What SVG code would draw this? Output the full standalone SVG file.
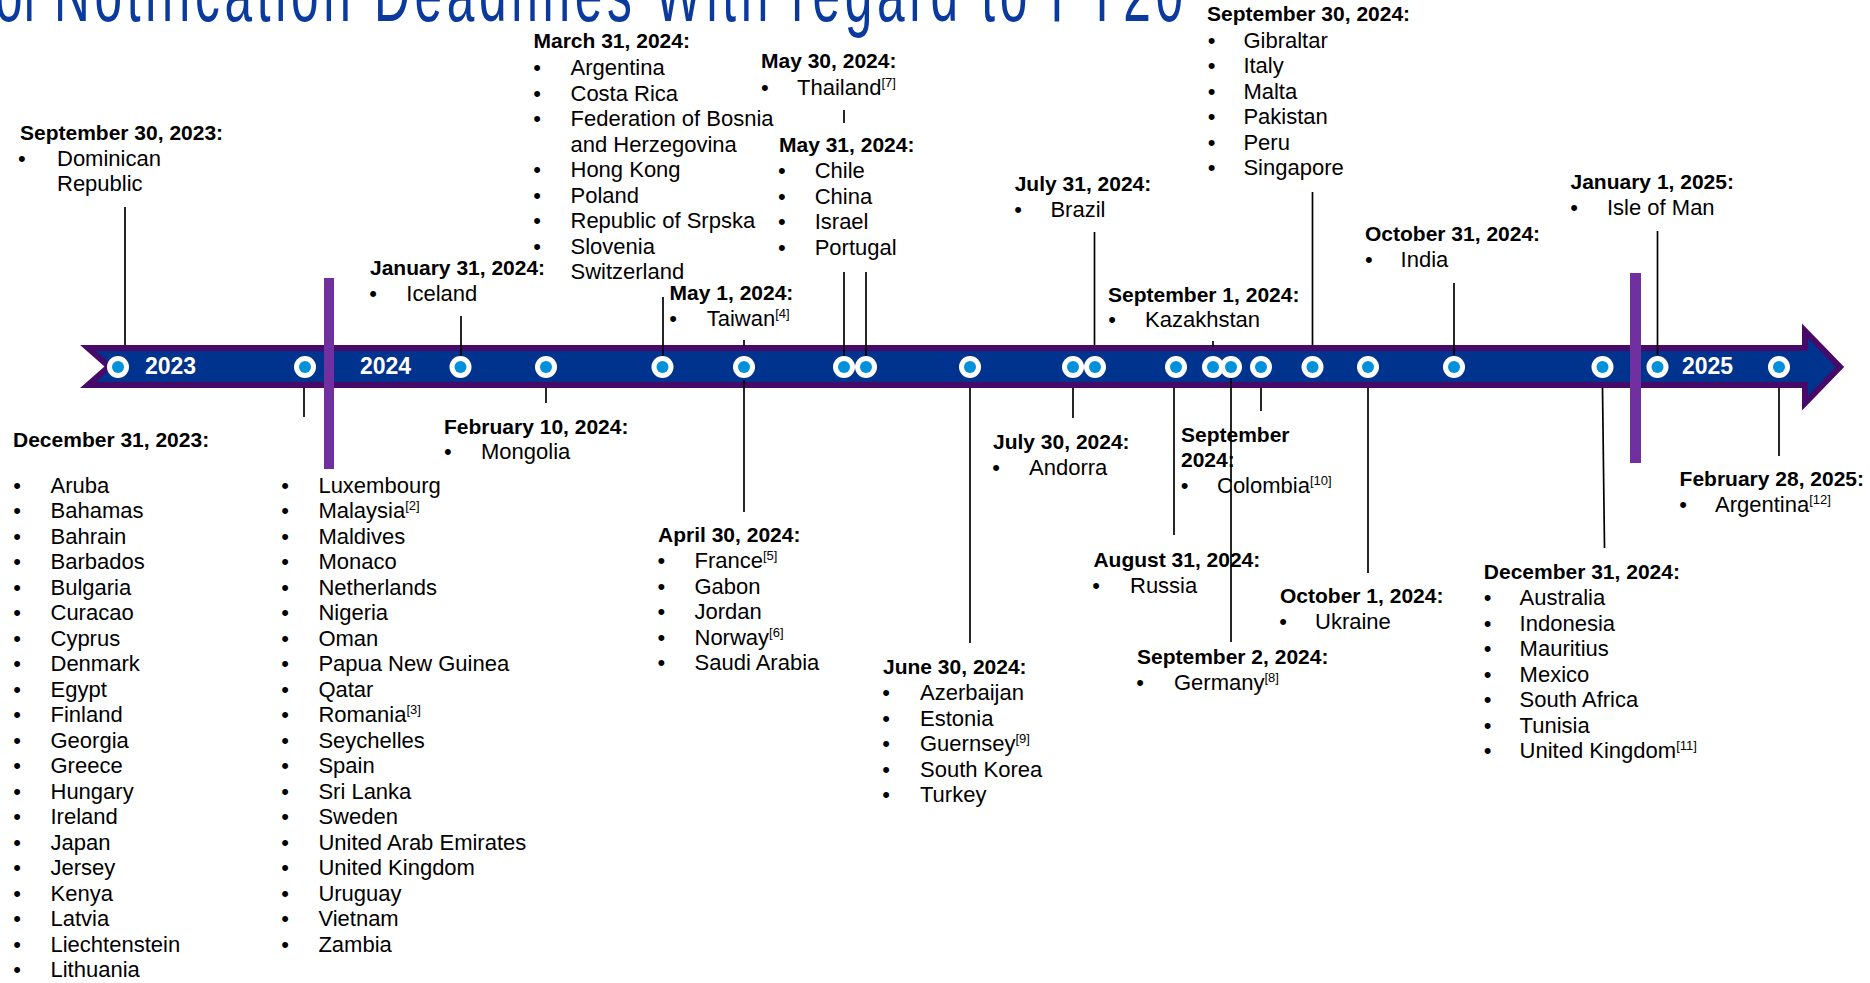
<svg xmlns="http://www.w3.org/2000/svg" width="1870" height="983" viewBox="0 0 1870 983">
<style>
.h{font-family:"Liberation Sans",Arial,sans-serif;font-weight:bold;font-size:21px;fill:#000}
.t{font-family:"Liberation Sans",Arial,sans-serif;font-size:22px;fill:#000}
.s{font-size:13px}
.yr{font-family:"Liberation Sans",Arial,sans-serif;font-weight:bold;font-size:23px;fill:#fff}
.ttl{font-family:"Liberation Sans",Arial,sans-serif;font-size:80px;fill:#0A3A9E}
.conn line{stroke:#000;stroke-width:1.7}
.dot .o{fill:#fff}
.dot .i{fill:#0091DA}
.div{fill:#7030A0}
</style>
<rect width="1870" height="983" fill="#fff"/>
<g id="title">
<g transform="translate(54,21) scale(0.62,1)"><text class="ttl" x="-95" y="0">of</text><text class="ttl" x="0" y="0" textLength="1821" lengthAdjust="spacing">Notification Deadlines With regard to FY20</text></g>
</g>
<g id="timeline">
<path d="M88,348 L1805,348 L1805,331 L1840,367 L1805,403 L1805,385 L88,385 L109,366.5 Z" fill="#00338D" stroke="#470A68" stroke-width="6" stroke-miterlimit="10"/>
<rect class="div" x="324" y="278" width="10" height="191"/>
<rect class="div" x="1630" y="273" width="11" height="190"/>
<text class="yr" x="145" y="374">2023</text>
<text class="yr" x="360" y="374">2024</text>
<text class="yr" x="1682" y="374">2025</text>
</g>
<g id="n-sep30-2023">
<text class="h" x="20" y="140">September 30, 2023:</text>
<text class="t"><tspan x="18" y="166">•</tspan><tspan x="57">Dominican</tspan><tspan x="57" y="191">Republic</tspan></text>
</g>
<g id="n-dec31-2023">
<text class="h" x="13" y="446.5">December 31, 2023:</text>
<text class="t"><tspan x="13.2" y="492.5">•</tspan><tspan x="50.5">Aruba</tspan><tspan x="13.2" y="518">•</tspan><tspan x="50.5">Bahamas</tspan><tspan x="13.2" y="543.5">•</tspan><tspan x="50.5">Bahrain</tspan><tspan x="13.2" y="569">•</tspan><tspan x="50.5">Barbados</tspan><tspan x="13.2" y="594.5">•</tspan><tspan x="50.5">Bulgaria</tspan><tspan x="13.2" y="620">•</tspan><tspan x="50.5">Curacao</tspan><tspan x="13.2" y="645.5">•</tspan><tspan x="50.5">Cyprus</tspan><tspan x="13.2" y="671">•</tspan><tspan x="50.5">Denmark</tspan><tspan x="13.2" y="696.5">•</tspan><tspan x="50.5">Egypt</tspan><tspan x="13.2" y="722">•</tspan><tspan x="50.5">Finland</tspan><tspan x="13.2" y="747.5">•</tspan><tspan x="50.5">Georgia</tspan><tspan x="13.2" y="773">•</tspan><tspan x="50.5">Greece</tspan><tspan x="13.2" y="798.5">•</tspan><tspan x="50.5">Hungary</tspan><tspan x="13.2" y="824">•</tspan><tspan x="50.5">Ireland</tspan><tspan x="13.2" y="849.5">•</tspan><tspan x="50.5">Japan</tspan><tspan x="13.2" y="875">•</tspan><tspan x="50.5">Jersey</tspan><tspan x="13.2" y="900.5">•</tspan><tspan x="50.5">Kenya</tspan><tspan x="13.2" y="926">•</tspan><tspan x="50.5">Latvia</tspan><tspan x="13.2" y="951.5">•</tspan><tspan x="50.5">Liechtenstein</tspan><tspan x="13.2" y="977">•</tspan><tspan x="50.5">Lithuania</tspan></text>
<text class="t"><tspan x="281.2" y="492.5">•</tspan><tspan x="318.4">Luxembourg</tspan><tspan x="281.2" y="518">•</tspan><tspan x="318.4">Malaysia</tspan><tspan class="s" dy="-8">[2]</tspan><tspan x="281.2" y="543.5">•</tspan><tspan x="318.4">Maldives</tspan><tspan x="281.2" y="569">•</tspan><tspan x="318.4">Monaco</tspan><tspan x="281.2" y="594.5">•</tspan><tspan x="318.4">Netherlands</tspan><tspan x="281.2" y="620">•</tspan><tspan x="318.4">Nigeria</tspan><tspan x="281.2" y="645.5">•</tspan><tspan x="318.4">Oman</tspan><tspan x="281.2" y="671">•</tspan><tspan x="318.4">Papua New Guinea</tspan><tspan x="281.2" y="696.5">•</tspan><tspan x="318.4">Qatar</tspan><tspan x="281.2" y="722">•</tspan><tspan x="318.4">Romania</tspan><tspan class="s" dy="-8">[3]</tspan><tspan x="281.2" y="747.5">•</tspan><tspan x="318.4">Seychelles</tspan><tspan x="281.2" y="773">•</tspan><tspan x="318.4">Spain</tspan><tspan x="281.2" y="798.5">•</tspan><tspan x="318.4">Sri Lanka</tspan><tspan x="281.2" y="824">•</tspan><tspan x="318.4">Sweden</tspan><tspan x="281.2" y="849.5">•</tspan><tspan x="318.4">United Arab Emirates</tspan><tspan x="281.2" y="875">•</tspan><tspan x="318.4">United Kingdom</tspan><tspan x="281.2" y="900.5">•</tspan><tspan x="318.4">Uruguay</tspan><tspan x="281.2" y="926">•</tspan><tspan x="318.4">Vietnam</tspan><tspan x="281.2" y="951.5">•</tspan><tspan x="318.4">Zambia</tspan></text>
</g>
<g id="n-jan31-2024">
<text class="h" x="370" y="275">January 31, 2024:</text>
<text class="t"><tspan x="369.2" y="300.7">•</tspan><tspan x="406.3">Iceland</tspan></text>
</g>
<g id="n-feb10-2024">
<text class="h" x="444" y="433.5">February 10, 2024:</text>
<text class="t"><tspan x="444" y="459">•</tspan><tspan x="481">Mongolia</tspan></text>
</g>
<g id="n-mar31-2024">
<text class="h" x="533.5" y="48.3">March 31, 2024:</text>
<text class="t"><tspan x="533.2" y="75">•</tspan><tspan x="570.5">Argentina</tspan><tspan x="533.2" y="100.5">•</tspan><tspan x="570.5">Costa Rica</tspan><tspan x="533.2" y="126">•</tspan><tspan x="570.5">Federation of Bosnia</tspan><tspan x="570.5" y="151.5">and Herzegovina</tspan><tspan x="533.2" y="177">•</tspan><tspan x="570.5">Hong Kong</tspan><tspan x="533.2" y="202.5">•</tspan><tspan x="570.5">Poland</tspan><tspan x="533.2" y="228">•</tspan><tspan x="570.5">Republic of Srpska</tspan><tspan x="533.2" y="253.5">•</tspan><tspan x="570.5">Slovenia</tspan><tspan x="570.5" y="279">Switzerland</tspan></text>
</g>
<g id="n-may30-2024">
<rect x="768" y="92" width="120" height="21.5" fill="#fff"/>
<text class="h" x="761" y="68.3">May 30, 2024:</text>
<text class="t"><tspan x="761" y="95">•</tspan><tspan x="797">Thailand</tspan><tspan class="s" dy="-8">[7]</tspan></text>
</g>
<g id="n-may31-2024">
<text class="h" x="779" y="151.5">May 31, 2024:</text>
<text class="t"><tspan x="778" y="178">•</tspan><tspan x="814.7">Chile</tspan><tspan x="778" y="203.5">•</tspan><tspan x="814.7">China</tspan><tspan x="778" y="229">•</tspan><tspan x="814.7">Israel</tspan><tspan x="778" y="254.5">•</tspan><tspan x="814.7">Portugal</tspan></text>
</g>
<g id="n-may1-2024">
<text class="h" x="669.6" y="300">May 1, 2024:</text>
<text class="t"><tspan x="669.2" y="325.7">•</tspan><tspan x="706.7">Taiwan</tspan><tspan class="s" dy="-8">[4]</tspan></text>
</g>
<g id="n-apr30-2024">
<text class="h" x="658" y="541.7">April 30, 2024:</text>
<text class="t"><tspan x="657.6" y="568.3">•</tspan><tspan x="694.5">France</tspan><tspan class="s" dy="-8">[5]</tspan><tspan x="657.6" y="593.8">•</tspan><tspan x="694.5">Gabon</tspan><tspan x="657.6" y="619.3">•</tspan><tspan x="694.5">Jordan</tspan><tspan x="657.6" y="644.8">•</tspan><tspan x="694.5">Norway</tspan><tspan class="s" dy="-8">[6]</tspan><tspan x="657.6" y="670.3">•</tspan><tspan x="694.5">Saudi Arabia</tspan></text>
</g>
<g id="n-jun30-2024">
<text class="h" x="883" y="674">June 30, 2024:</text>
<text class="t"><tspan x="882.2" y="700">•</tspan><tspan x="920">Azerbaijan</tspan><tspan x="882.2" y="725.5">•</tspan><tspan x="920">Estonia</tspan><tspan x="882.2" y="751">•</tspan><tspan x="920">Guernsey</tspan><tspan class="s" dy="-8">[9]</tspan><tspan x="882.2" y="776.5">•</tspan><tspan x="920">South Korea</tspan><tspan x="882.2" y="802">•</tspan><tspan x="920">Turkey</tspan></text>
</g>
<g id="n-jul30-2024">
<text class="h" x="993" y="449.3">July 30, 2024:</text>
<text class="t"><tspan x="992.2" y="475">•</tspan><tspan x="1029">Andorra</tspan></text>
</g>
<g id="n-jul31-2024">
<text class="h" x="1014.7" y="191">July 31, 2024:</text>
<text class="t"><tspan x="1014.2" y="216.7">•</tspan><tspan x="1050.4">Brazil</tspan></text>
</g>
<g id="n-aug31-2024">
<text class="h" x="1093.4" y="566.7">August 31, 2024:</text>
<text class="t"><tspan x="1092.2" y="592.7">•</tspan><tspan x="1130">Russia</tspan></text>
</g>
<g id="n-sep1-2024">
<text class="h" x="1108" y="301.7">September 1, 2024:</text>
<text class="t"><tspan x="1108.2" y="327">•</tspan><tspan x="1145">Kazakhstan</tspan></text>
</g>
<g id="n-sep2-2024">
<text class="h" x="1137" y="664">September 2, 2024:</text>
<text class="t"><tspan x="1136.2" y="690">•</tspan><tspan x="1174">Germany</tspan><tspan class="s" dy="-8">[8]</tspan></text>
</g>
<g id="n-sep-2024-colombia">
<text class="h"><tspan x="1181" y="441.7">September</tspan><tspan x="1181" y="466.7">2024:</tspan></text>
<text class="t"><tspan x="1180.7" y="492.7">•</tspan><tspan x="1217">Colombia</tspan><tspan class="s" dy="-8">[10]</tspan></text>
</g>
<g id="n-sep30-2024">
<text class="h" x="1207" y="20.7">September 30, 2024:</text>
<text class="t"><tspan x="1207.7" y="47.7">•</tspan><tspan x="1243.4">Gibraltar</tspan><tspan x="1207.7" y="73.2">•</tspan><tspan x="1243.4">Italy</tspan><tspan x="1207.7" y="98.7">•</tspan><tspan x="1243.4">Malta</tspan><tspan x="1207.7" y="124.2">•</tspan><tspan x="1243.4">Pakistan</tspan><tspan x="1207.7" y="149.7">•</tspan><tspan x="1243.4">Peru</tspan><tspan x="1207.7" y="175.2">•</tspan><tspan x="1243.4">Singapore</tspan></text>
</g>
<g id="n-oct1-2024">
<text class="h" x="1280" y="603.3">October 1, 2024:</text>
<text class="t"><tspan x="1279.2" y="629.3">•</tspan><tspan x="1315">Ukraine</tspan></text>
</g>
<g id="n-oct31-2024">
<text class="h" x="1365" y="240.7">October 31, 2024:</text>
<text class="t"><tspan x="1364.9" y="266.7">•</tspan><tspan x="1400.6">India</tspan></text>
</g>
<g id="n-dec31-2024">
<text class="h" x="1483.8" y="579.3">December 31, 2024:</text>
<text class="t"><tspan x="1483.7" y="605">•</tspan><tspan x="1519.6">Australia</tspan><tspan x="1483.7" y="630.5">•</tspan><tspan x="1519.6">Indonesia</tspan><tspan x="1483.7" y="656">•</tspan><tspan x="1519.6">Mauritius</tspan><tspan x="1483.7" y="681.5">•</tspan><tspan x="1519.6">Mexico</tspan><tspan x="1483.7" y="707">•</tspan><tspan x="1519.6">South Africa</tspan><tspan x="1483.7" y="732.5">•</tspan><tspan x="1519.6">Tunisia</tspan><tspan x="1483.7" y="758">•</tspan><tspan x="1519.6">United Kingdom</tspan><tspan class="s" dy="-8">[11]</tspan></text>
</g>
<g id="n-jan1-2025">
<text class="h" x="1570.5" y="189.3">January 1, 2025:</text>
<text class="t"><tspan x="1570.2" y="215">•</tspan><tspan x="1607">Isle of Man</tspan></text>
</g>
<g id="n-feb28-2025">
<text class="h" x="1679.6" y="485.7">February 28, 2025:</text>
<text class="t"><tspan x="1679.2" y="511.7">•</tspan><tspan x="1715">Argentina</tspan><tspan class="s" dy="-8">[12]</tspan></text>
</g>
<g id="connectors" class="conn">
<line x1="125" y1="207" x2="125" y2="345"/>
<line x1="304" y1="388" x2="304" y2="417"/>
<line x1="461" y1="316" x2="461" y2="356"/>
<line x1="546" y1="388" x2="546" y2="403"/>
<line x1="663" y1="297" x2="663" y2="356"/>
<line x1="744" y1="340" x2="744" y2="346"/>
<line x1="744" y1="380" x2="744" y2="512"/>
<line x1="844" y1="110" x2="844" y2="123"/>
<line x1="844" y1="272" x2="844" y2="356"/>
<line x1="866" y1="272" x2="866" y2="356"/>
<line x1="970" y1="388" x2="970" y2="643"/>
<line x1="1073" y1="388" x2="1073" y2="418"/>
<line x1="1094.5" y1="232" x2="1094.5" y2="345"/>
<line x1="1174" y1="388" x2="1174" y2="535"/>
<line x1="1213" y1="341" x2="1213" y2="347"/>
<line x1="1231" y1="375" x2="1231" y2="642"/>
<line x1="1261" y1="388" x2="1261" y2="411"/>
<line x1="1312.5" y1="192" x2="1312.5" y2="345"/>
<line x1="1368" y1="388" x2="1368" y2="573"/>
<line x1="1454" y1="283" x2="1454" y2="355"/>
<line x1="1602.5" y1="388" x2="1604.5" y2="548"/>
<line x1="1657.5" y1="231" x2="1657.5" y2="355"/>
<line x1="1779" y1="388" x2="1779" y2="456"/>
</g>
<g id="markers" class="dot">
<g><circle class="o" cx="118" cy="367" r="11"/><circle class="i" cx="118" cy="367" r="6"/></g>
<g><circle class="o" cx="305" cy="367" r="11"/><circle class="i" cx="305" cy="367" r="6"/></g>
<g><circle class="o" cx="460.5" cy="367" r="11"/><circle class="i" cx="460.5" cy="367" r="6"/></g>
<g><circle class="o" cx="546" cy="367" r="11"/><circle class="i" cx="546" cy="367" r="6"/></g>
<g><circle class="o" cx="662.5" cy="367" r="11"/><circle class="i" cx="662.5" cy="367" r="6"/></g>
<g><circle class="o" cx="744" cy="367" r="11"/><circle class="i" cx="744" cy="367" r="6"/></g>
<g><circle class="o" cx="844" cy="367" r="11"/><circle class="i" cx="844" cy="367" r="6"/></g>
<g><circle class="o" cx="866" cy="367" r="11"/><circle class="i" cx="866" cy="367" r="6"/></g>
<g><circle class="o" cx="970" cy="367" r="11"/><circle class="i" cx="970" cy="367" r="6"/></g>
<g><circle class="o" cx="1073" cy="367" r="11"/><circle class="i" cx="1073" cy="367" r="6"/></g>
<g><circle class="o" cx="1095" cy="367" r="11"/><circle class="i" cx="1095" cy="367" r="6"/></g>
<g><circle class="o" cx="1176" cy="367" r="11"/><circle class="i" cx="1176" cy="367" r="6"/></g>
<g><circle class="o" cx="1213" cy="367" r="11"/><circle class="i" cx="1213" cy="367" r="6"/></g>
<g><circle class="o" cx="1231" cy="367" r="11"/><circle class="i" cx="1231" cy="367" r="6"/></g>
<g><circle class="o" cx="1261" cy="367" r="11"/><circle class="i" cx="1261" cy="367" r="6"/></g>
<g><circle class="o" cx="1312.5" cy="367" r="11"/><circle class="i" cx="1312.5" cy="367" r="6"/></g>
<g><circle class="o" cx="1368" cy="367" r="11"/><circle class="i" cx="1368" cy="367" r="6"/></g>
<g><circle class="o" cx="1454" cy="367" r="11"/><circle class="i" cx="1454" cy="367" r="6"/></g>
<g><circle class="o" cx="1602.5" cy="367" r="11"/><circle class="i" cx="1602.5" cy="367" r="6"/></g>
<g><circle class="o" cx="1657.5" cy="367" r="11"/><circle class="i" cx="1657.5" cy="367" r="6"/></g>
<g><circle class="o" cx="1779" cy="367" r="11"/><circle class="i" cx="1779" cy="367" r="6"/></g>
</g>
</svg>
